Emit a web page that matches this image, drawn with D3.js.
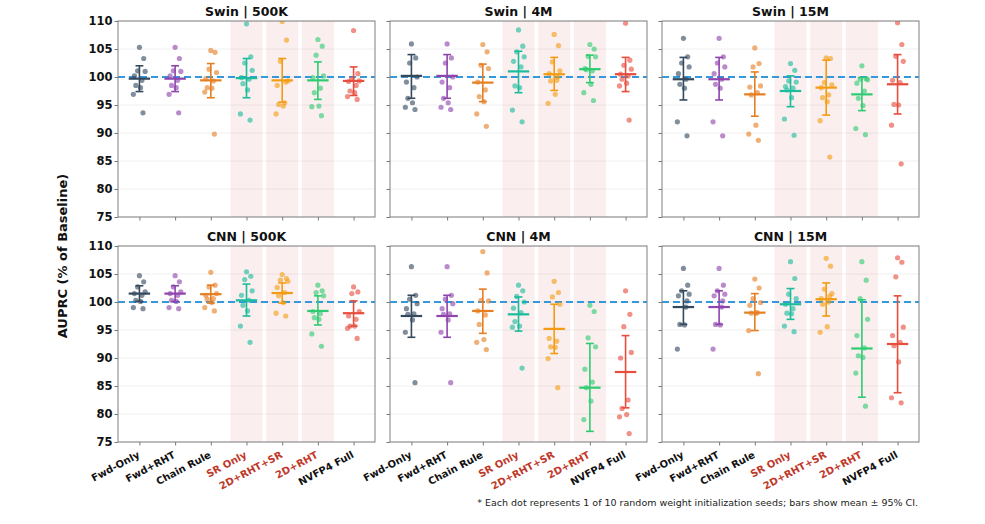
<!DOCTYPE html>
<html>
<head>
<meta charset="utf-8">
<script src="https://cdn.jsdelivr.net/npm/d3@7"></script>
<style>
  body { margin: 0; background: #fff; }
  svg, svg text { font-family: "DejaVu Sans", sans-serif; }
</style>
</head>
<body>
<script>
// categories and colours
var categories = ["Fwd-Only", "Fwd+RHT", "Chain Rule", "SR Only", "2D+RHT+SR", "2D+RHT", "NVFP4 Full"];
var highlighted = ["SR Only", "2D+RHT+SR", "2D+RHT"];
var colors = ["#34495e", "#8e44ad", "#e67e22", "#1abc9c", "#f39c12", "#2ecc71", "#e74c3c"];
var models = ["Swin", "CNN"];
var sizes = ["500K", "4M", "15M"];
var yTicks = [75, 80, 85, 90, 95, 100, 105, 110];

// per seed values (AUPRC % of baseline), one list per category
var swin500K = [
  [105.3, 103.3, 101.1, 101.0, 100.2, 99.4, 98.5, 98.1, 96.9, 93.6],
  [105.3, 103.3, 101.1, 101.0, 100.2, 99.4, 98.5, 98.1, 96.9, 93.6],
  [104.75, 104.4, 101.4, 100.8, 99.7, 99.3, 98.1, 98.0, 97.3, 89.8],
  [109.5, 103.6, 102.5, 101.2, 99.9, 99.6, 98.8, 97.7, 93.4, 92.3],
  [109.9, 106.6, 102.8, 99.3, 98.5, 95.4, 95.1, 94.8, 93.4, 99.1],
  [106.7, 105.5, 103.9, 100.2, 99.9, 98.0, 97.2, 94.8, 94.7, 93.1],
  [108.3, 100.6, 99.7, 99.3, 99.2, 98.5, 97.5, 97.2, 96.5, 96.0]
];
var swin500KMean = [99.7, 99.7, 99.4, 99.8, 99.4, 99.4, 99.3];
var swin500KLo = [97.4, 97.4, 96.3, 96.3, 95.5, 96.0, 96.7];
var swin500KHi = [102.0, 102.0, 102.4, 103.3, 103.3, 102.7, 101.8];

var swin4M = [
  [105.9, 103.4, 102.5, 100.0, 99.1, 98.1, 96.2, 95.4, 94.6, 94.2],
  [105.9, 103.4, 102.5, 100.0, 99.1, 98.1, 96.2, 95.4, 94.6, 94.2],
  [105.8, 104.5, 102.1, 101.5, 99.1, 97.7, 96.5, 95.6, 93.4, 91.2],
  [108.4, 105.5, 104.5, 103.6, 102.8, 101.8, 98.4, 98.1, 94.1, 92.0],
  [107.6, 105.6, 102.7, 101.1, 100.6, 99.4, 99.3, 96.9, 95.3, 100.0],
  [105.8, 105.0, 103.7, 103.6, 101.5, 101.1, 101.3, 98.7, 97.2, 95.8],
  [109.6, 103.0, 102.1, 101.4, 100.5, 100.2, 99.6, 98.9, 98.4, 92.3]
];
var swin4MMean = [100.2, 100.2, 99.0, 101.0, 100.5, 101.4, 100.5];
var swin4MLo = [96.2, 96.2, 95.6, 97.2, 97.6, 99.0, 97.4];
var swin4MHi = [104.0, 104.0, 102.3, 104.6, 103.5, 103.9, 103.5];

var swin15M = [
  [106.9, 103.6, 102.5, 101.8, 100.6, 99.6, 98.7, 98.0, 92.0, 89.5],
  [106.9, 103.6, 102.5, 101.8, 100.6, 99.6, 98.7, 98.0, 92.0, 89.5],
  [105.2, 102.4, 101.8, 98.4, 98.2, 97.2, 96.8, 91.4, 89.8, 88.7],
  [102.4, 101.2, 99.3, 99.1, 98.3, 98.0, 97.7, 96.3, 92.5, 89.6],
  [103.4, 103.3, 99.0, 98.6, 98.1, 96.8, 96.3, 95.6, 92.2, 85.7],
  [102.0, 99.7, 99.6, 99.5, 98.9, 97.5, 96.2, 94.9, 90.8, 89.7],
  [109.7, 105.8, 103.7, 102.8, 99.4, 99.0, 95.1, 95.0, 91.4, 84.5]
];
var swin15MMean = [99.6, 99.6, 96.9, 97.5, 98.1, 96.9, 98.7];
var swin15MLo = [95.9, 95.9, 93.0, 94.7, 93.2, 94.0, 93.4];
var swin15MHi = [103.5, 103.5, 100.9, 100.2, 103.0, 99.9, 104.0];

var cnn500K = [
  [104.7, 103.6, 102.7, 101.8, 101.5, 101.2, 100.3, 100.1, 99.0, 98.8],
  [104.7, 103.6, 102.7, 101.8, 101.5, 101.2, 100.3, 100.1, 99.0, 98.8],
  [105.3, 103.0, 102.7, 101.5, 101.2, 100.6, 100.5, 99.9, 99.0, 98.4],
  [105.4, 104.6, 104.0, 102.0, 101.2, 100.3, 99.4, 98.4, 95.7, 92.8],
  [104.9, 104.2, 103.9, 103.7, 102.6, 101.7, 101.1, 99.9, 98.0, 97.5],
  [103.0, 102.0, 101.7, 101.1, 98.3, 97.9, 97.2, 96.9, 94.3, 92.1],
  [102.7, 101.8, 101.5, 98.3, 97.5, 96.9, 95.7, 95.7, 95.3, 93.5]
];
var cnn500KMean = [101.5, 101.5, 101.4, 100.3, 101.6, 98.4, 98.0];
var cnn500KLo = [100.1, 100.1, 99.8, 97.5, 99.8, 95.9, 95.7];
var cnn500KHi = [102.9, 102.9, 103.0, 103.2, 103.4, 101.1, 100.2];

var cnn4M = [
  [106.3, 101.2, 100.5, 99.7, 98.8, 97.9, 97.8, 96.8, 94.6, 85.6],
  [106.3, 101.2, 100.5, 99.7, 98.8, 97.9, 97.8, 96.8, 94.6, 85.6],
  [109.0, 105.2, 100.3, 100.2, 98.4, 97.7, 96.0, 93.3, 92.8, 91.5],
  [103.0, 102.0, 101.0, 100.0, 98.9, 98.1, 96.5, 95.7, 95.5, 88.2],
  [103.7, 101.7, 100.9, 99.6, 93.5, 93.0, 92.0, 91.9, 89.9, 84.7],
  [99.4, 98.3, 93.6, 92.0, 88.0, 85.7, 84.7, 82.3, 79.0],
  [102.0, 97.8, 95.6, 91.0, 90.0, 82.5, 81.0, 79.9, 79.5, 76.5]
];
var cnn4MMean = [97.5, 97.5, 98.4, 97.8, 95.2, 84.7, 87.5];
var cnn4MLo = [93.7, 93.7, 94.4, 94.8, 90.8, 76.9, 81.1];
var cnn4MHi = [101.2, 101.2, 102.3, 100.9, 99.6, 92.6, 94.0];

var cnn15M = [
  [106.0, 103.0, 102.0, 101.4, 101.1, 99.1, 96.0, 95.9, 91.6, 100.2],
  [106.0, 103.0, 102.0, 101.4, 101.1, 99.1, 96.0, 95.9, 91.6, 100.2],
  [104.1, 102.5, 100.6, 99.9, 99.4, 98.1, 98.0, 98.0, 94.9, 87.2],
  [107.2, 104.2, 101.4, 100.6, 99.6, 98.8, 98.0, 97.9, 95.7, 94.7],
  [107.8, 106.4, 102.3, 101.5, 100.6, 100.0, 99.6, 95.6, 94.6, 101.0],
  [107.2, 103.9, 100.6, 96.9, 94.0, 91.8, 90.4, 90.1, 87.3, 81.4],
  [107.9, 107.1, 104.5, 95.5, 94.0, 92.8, 92.2, 89.3, 82.9, 82.0]
];
var cnn15MMean = [99.1, 99.1, 98.1, 99.6, 100.5, 91.7, 92.5];
var cnn15MLo = [96.0, 96.0, 94.9, 96.9, 97.5, 83.0, 83.8];
var cnn15MHi = [102.0, 102.0, 101.5, 102.4, 103.4, 100.4, 101.1];

// fixed horizontal jitter per seed index (in category units)
var jitter = [0.0, 0.12, -0.05, 0.16, -0.14, 0.07, -0.1, 0.03, -0.17, 0.1];

var panels = [
  {model: 0, size: 0, dots: swin500K, mean: swin500KMean, lo: swin500KLo, hi: swin500KHi},
  {model: 0, size: 1, dots: swin4M, mean: swin4MMean, lo: swin4MLo, hi: swin4MHi},
  {model: 0, size: 2, dots: swin15M, mean: swin15MMean, lo: swin15MLo, hi: swin15MHi},
  {model: 1, size: 0, dots: cnn500K, mean: cnn500KMean, lo: cnn500KLo, hi: cnn500KHi},
  {model: 1, size: 1, dots: cnn4M, mean: cnn4MMean, lo: cnn4MLo, hi: cnn4MHi},
  {model: 1, size: 2, dots: cnn15M, mean: cnn15MMean, lo: cnn15MLo, hi: cnn15MHi}
];

var width = 985;
var height = 524;
var panelLeft = [118, 390, 662];
var panelTop = [21, 246];
var pw = 257;
var ph = 196;
var labelAngle = 28;

var svg = d3.select("body")
    .append("svg")
    .attr("width", width)
    .attr("height", height);

var x = d3.scaleLinear().domain([-0.6, 6.6]).range([0, pw]);
var y = d3.scaleLinear().domain([75, 110]).range([ph, 0]);

panels.forEach(function(p, pi) {
    var g = svg.append("g")
        .attr("transform", "translate(" + panelLeft[p.size] + "," + panelTop[p.model] + ")");

    g.append("clipPath").attr("id", "clip" + pi)
        .append("rect").attr("width", pw).attr("height", ph);

    // light grid
    g.append("g").selectAll("line")
        .data(yTicks)
        .enter().append("line")
        .attr("x1", 0).attr("x2", pw)
        .attr("y1", function(d) { return y(d); })
        .attr("y2", function(d) { return y(d); })
        .attr("stroke", "#ececec")
        .attr("stroke-width", 0.8);

    // shading for highlighted methods
    g.append("g").selectAll("rect")
        .data(categories.filter(function(c) { return highlighted.indexOf(c) >= 0; }))
        .enter().append("rect")
        .attr("x", function(c) { return x(categories.indexOf(c) - 0.45); })
        .attr("width", x(0.45) - x(-0.45))
        .attr("y", 0)
        .attr("height", ph)
        .attr("fill", "#c0392b")
        .attr("fill-opacity", 0.08);

    // baseline
    g.append("line")
        .attr("x1", 0).attr("x2", pw)
        .attr("y1", y(100)).attr("y2", y(100))
        .attr("stroke", "#3498db")
        .attr("stroke-width", 2)
        .attr("stroke-dasharray", "7,4");

    var body = g.append("g").attr("clip-path", "url(#clip" + pi + ")");

    categories.forEach(function(c, ci) {
        var col = colors[ci];
        body.append("g").selectAll("circle")
            .data(p.dots[ci])
            .enter().append("circle")
            .attr("cx", function(d, i) { return x(ci + jitter[i]); })
            .attr("cy", function(d) { return y(d); })
            .attr("r", 2.6)
            .attr("fill", col)
            .attr("fill-opacity", 0.62);

        // CI bar
        body.append("line")
            .attr("x1", x(ci)).attr("x2", x(ci))
            .attr("y1", y(p.lo[ci])).attr("y2", y(p.hi[ci]))
            .attr("stroke", col).attr("stroke-width", 1.6);
        [p.lo[ci], p.hi[ci]].forEach(function(v) {
            body.append("line")
                .attr("x1", x(ci - 0.11)).attr("x2", x(ci + 0.11))
                .attr("y1", y(v)).attr("y2", y(v))
                .attr("stroke", col).attr("stroke-width", 1.6);
        });
        // mean
        body.append("line")
            .attr("x1", x(ci - 0.3)).attr("x2", x(ci + 0.3))
            .attr("y1", y(p.mean[ci])).attr("y2", y(p.mean[ci]))
            .attr("stroke", col).attr("stroke-width", 2.2);
    });

    // axes
    var yAxis = g.append("g")
        .call(d3.axisLeft(y).tickValues(yTicks).tickSize(3.5).tickPadding(2));
    if (p.size > 0) yAxis.selectAll("text").remove();
    yAxis.attr("font-family", "DejaVu Sans");
    yAxis.selectAll("text")
        .attr("font-size", 11.5)
        .attr("font-weight", "bold")
        .attr("fill", "#111");

    var xAxis = g.append("g")
        .attr("transform", "translate(0," + ph + ")")
        .call(d3.axisBottom(x).tickValues(d3.range(categories.length)).tickSize(3.5).tickFormat(""));
    xAxis.attr("font-family", "DejaVu Sans");

    [yAxis, xAxis].forEach(function(a) {
        a.select(".domain").remove();
        a.selectAll("line").attr("stroke", "#777");
    });

    if (p.model === 1) {
        xAxis.selectAll(".tick")
            .append("text")
            .attr("transform", "translate(0.5,15) rotate(-" + labelAngle + ")")
            .attr("text-anchor", "end")
            .attr("font-size", 10)
            .attr("font-weight", "bold")
            .attr("fill", function(d) { return highlighted.indexOf(categories[d]) >= 0 ? "#c0392b" : "#111"; })
            .text(function(d) { return categories[d]; });
    }

    // frame
    g.append("rect")
        .attr("width", pw).attr("height", ph)
        .attr("fill", "none")
        .attr("stroke", "#808080")
        .attr("stroke-width", 1);

    g.append("text")
        .attr("x", pw / 2)
        .attr("y", -5)
        .attr("text-anchor", "middle")
        .attr("font-size", 12.5)
        .attr("font-weight", "bold")
        .attr("fill", "#111")
        .text(models[p.model] + " | " + sizes[p.size]);
});

svg.append("text")
    .attr("transform", "translate(67,256) rotate(-90)")
    .attr("text-anchor", "middle")
    .attr("font-size", 13)
    .attr("font-weight", "bold")
    .attr("fill", "#111")
    .text("AUPRC (% of Baseline)");

svg.append("text")
    .attr("x", 918)
    .attr("y", 506)
    .attr("text-anchor", "end")
    .attr("font-size", 9.5)
    .attr("fill", "#222")
    .text("* Each dot represents 1 of 10 random weight initialization seeds; bars show mean \u00b1 95% CI.");
</script>
</body>
</html>
